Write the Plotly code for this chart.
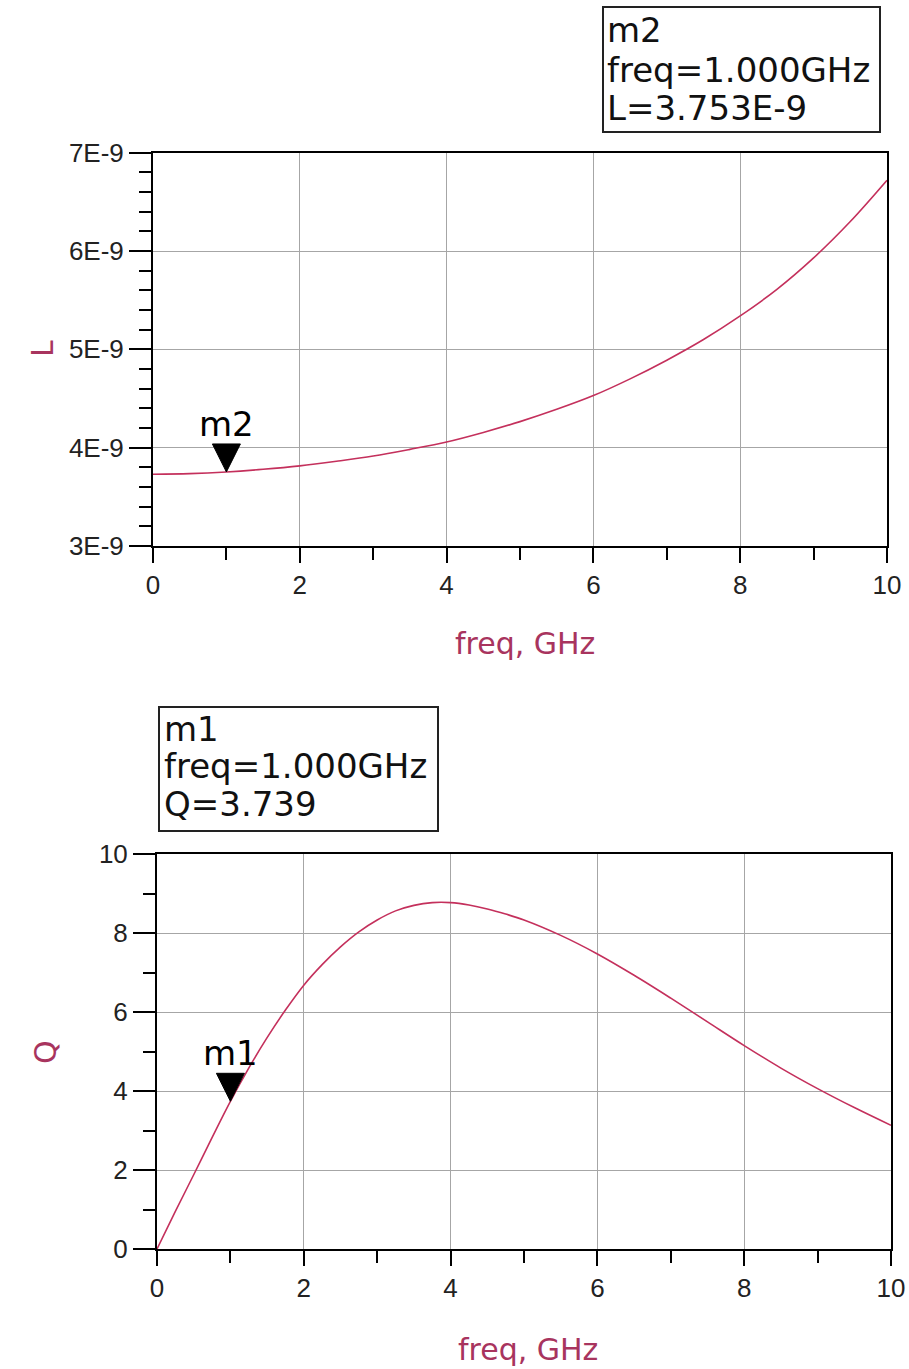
import plotly.graph_objects as go

# ---- data -------------------------------------------------------------
freq_L = [0, 0.5, 1, 1.5, 2, 2.5, 3, 3.5, 4, 4.5, 5, 5.5, 6, 6.5, 7, 7.5,
          8, 8.5, 9, 9.5, 10]
L_henry = [3.730e-9, 3.736e-9, 3.753e-9, 3.780e-9, 3.815e-9, 3.862e-9,
           3.915e-9, 3.983e-9, 4.058e-9, 4.155e-9, 4.265e-9, 4.390e-9,
           4.530e-9, 4.700e-9, 4.890e-9, 5.100e-9, 5.340e-9, 5.610e-9,
           5.930e-9, 6.300e-9, 6.720e-9]

freq_Q = [0, 0.25, 0.5, 0.75, 1, 1.25, 1.5, 1.75, 2, 2.25, 2.5, 2.75, 3,
          3.25, 3.5, 3.75, 4, 4.25, 4.5, 4.75, 5, 5.5, 6, 6.5, 7, 7.5, 8,
          8.5, 9, 9.5, 10]
Q_values = [0, 0.95, 1.88, 2.82, 3.739, 4.58, 5.35, 6.05, 6.68, 7.20, 7.65,
            8.03, 8.33, 8.56, 8.70, 8.77, 8.77, 8.71, 8.61, 8.48, 8.33, 7.94,
            7.47, 6.93, 6.35, 5.75, 5.15, 4.58, 4.06, 3.58, 3.13]

# markers: (name, freq, value)
marker_m2 = ("m2", 1.0, 3.753e-9)
marker_m1 = ("m1", 1.0, 3.739)

x_ticks = [0, 2, 4, 6, 8, 10]
L_ticks = [3e-9, 4e-9, 5e-9, 6e-9, 7e-9]
L_tick_text = ["3E-9", "4E-9", "5E-9", "6E-9", "7E-9"]
Q_ticks = [0, 2, 4, 6, 8, 10]

# ---- styling ----------------------------------------------------------
W, H = 909, 1369
TRACE_COLOR = "#c4305c"
TITLE_COLOR = "#a8345e"
GRID_COLOR = "#a6a6a6"
TICK_FONT = dict(family="Liberation Sans, Arial, sans-serif", size=26, color="#222222")
BOX_FONT = dict(family="DejaVu Sans, sans-serif", size=34, color="#111111")


def fx(px):
    return px / W


def fy(py):
    return 1 - py / H


def axis_common():
    return dict(
        showline=True, linecolor="black", linewidth=2, mirror=True,
        showgrid=True, gridcolor=GRID_COLOR, gridwidth=1, automargin=False,
        zeroline=False, ticks="outside", ticklen=22, tickwidth=2,
        tickcolor="black", tickfont=TICK_FONT,
    )


def minor_ticks(tick0, step):
    return dict(tickmode="linear", tick0=tick0, dtick=step, ticks="outside",
                ticklen=12, tickwidth=2, tickcolor="black", showgrid=False)


fig = go.Figure()

fig.add_trace(go.Scatter(x=freq_L, y=L_henry, mode="lines",
                         line=dict(color=TRACE_COLOR, width=1.6, shape="spline"),
                         xaxis="x", yaxis="y", showlegend=False))
fig.add_trace(go.Scatter(x=freq_Q, y=Q_values, mode="lines",
                         line=dict(color=TRACE_COLOR, width=1.6, shape="spline"),
                         xaxis="x2", yaxis="y2", showlegend=False))

layout = dict(
    width=W, height=H,
    margin=dict(l=0, r=0, t=0, b=0, pad=0, autoexpand=False),
    paper_bgcolor="white", plot_bgcolor="white", showlegend=False,
)

layout["xaxis"] = dict(axis_common(), domain=[fx(153), fx(887)], range=[0, 10],
                       anchor="y", tickmode="array", tickvals=x_ticks,
                       ticklen=15, minor=minor_ticks(0, 1))
layout["yaxis"] = dict(axis_common(), domain=[fy(546), fy(152.7)], range=[3e-9, 7e-9],
                       anchor="x", tickmode="array", tickvals=L_ticks,
                       ticktext=L_tick_text, minor=minor_ticks(3e-9, 0.2e-9))
layout["xaxis2"] = dict(axis_common(), domain=[fx(157), fx(891)], range=[0, 10],
                        anchor="y2", tickmode="array", tickvals=x_ticks,
                        ticklen=15, minor=minor_ticks(0, 1))
layout["yaxis2"] = dict(axis_common(), domain=[fy(1249), fy(854)], range=[0, 10],
                        anchor="x2", tickmode="array", tickvals=Q_ticks,
                        minor=minor_ticks(0, 1))

annotations = []
shapes = []

# axis titles
title_font = dict(family="DejaVu Sans, sans-serif", size=30, color=TITLE_COLOR)
for text, x, y, angle in [("freq, GHz", 525, 643, 0), ("freq, GHz", 528, 1349, 0),
                          ("L", 42, 349, -90), ("Q", 45, 1052, -90)]:
    annotations.append(dict(text=text, xref="paper", yref="paper", textangle=angle,
                            x=fx(x), y=fy(y), showarrow=False, font=title_font,
                            xanchor="center", yanchor="middle"))

# marker readout boxes: frame + one annotation per line
readouts = [
    ((603, 7, 880, 132), 605, [30, 70, 108],
     [marker_m2[0], f"freq={marker_m2[1]:.3f}GHz", "L=3.753E-9"]),
    ((159, 707, 438, 831), 162, [729, 766, 804],
     [marker_m1[0], f"freq={marker_m1[1]:.3f}GHz", f"Q={marker_m1[2]:.3f}"]),
]
for (x0, y0, x1, y1), tx, line_y, lines in readouts:
    shapes.append(dict(type="rect", xref="paper", yref="paper",
                       x0=fx(x0), x1=fx(x1), y0=fy(y1), y1=fy(y0),
                       line=dict(color="#222222", width=2), fillcolor="white",
                       layer="above"))
    for ly, txt in zip(line_y, lines):
        annotations.append(dict(text=txt, xref="paper", yref="paper",
                                x=fx(tx), y=fy(ly), xanchor="left", yanchor="middle",
                                showarrow=False, font=BOX_FONT))

# marker triangles (tip on the trace) and their labels
for (name, fq, val), xr, yr in [(marker_m2, "x", "y"), (marker_m1, "x2", "y2")]:
    shapes.append(dict(type="path", xref=xr, yref=yr,
                       xsizemode="pixel", ysizemode="pixel",
                       xanchor=fq, yanchor=val,
                       path="M -14 28 L 14 28 L 0 0 Z",
                       fillcolor="black", line=dict(color="black", width=1)))
    annotations.append(dict(text=name, xref=xr, yref=yr, x=fq, y=val,
                            yshift=48, showarrow=False,
                            font=dict(family="DejaVu Sans, sans-serif", size=34,
                                      color="black"),
                            xanchor="center", yanchor="middle"))

layout["annotations"] = annotations
layout["shapes"] = shapes
fig.update_layout(**layout)

fig.write_html("out.html")
